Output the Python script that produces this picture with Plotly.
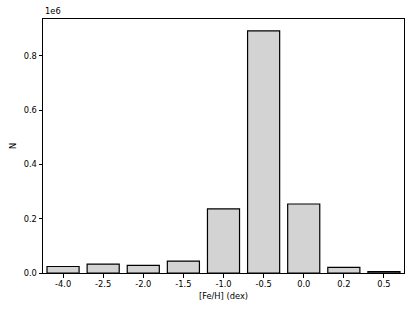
import plotly.graph_objects as go

categories = ["-4.0", "-2.5", "-2.0", "-1.5", "-1.0", "-0.5", "0.0", "0.2", "0.5"]
counts = [24000, 33000, 28000, 44000, 236000, 891000, 254000, 21000, 5000]

scale = 1e6
yvals = [c / scale for c in counts]

fig = go.Figure(go.Bar(
    x=list(range(len(categories))),
    y=yvals,
    width=0.8,
    marker=dict(color="#d3d3d3", line=dict(color="black", width=1.2)),
))

font = dict(family="DejaVu Sans", size=8.3, color="black")
fig.update_layout(
    width=415, height=311,
    margin=dict(l=43, r=11, t=19, b=38),
    plot_bgcolor="white", paper_bgcolor="white",
    font=font,
    showlegend=False,
    xaxis=dict(
        range=[-0.5, 8.5],
        tickmode="array", tickvals=list(range(len(categories))), ticktext=categories,
        showline=True, linecolor="black", linewidth=1, mirror=True,
        ticks="outside", ticklen=3.5, tickcolor="black", showgrid=False, zeroline=False,
        title=dict(text="[Fe/H] (dex)", font=font, standoff=4),
    ),
    yaxis=dict(
        range=[0, 0.935],
        tickvals=[0, 0.2, 0.4, 0.6, 0.8], ticktext=["0.0", "0.2", "0.4", "0.6", "0.8"],
        showline=True, linecolor="black", linewidth=1, mirror=True,
        ticks="outside", ticklen=3.5, tickcolor="black", showgrid=False, zeroline=False,
        title=dict(text="N", font=font, standoff=5),
    ),
    annotations=[dict(text="1e6", xref="paper", yref="paper", x=0, y=1,
                      xanchor="left", yanchor="bottom", showarrow=False, font=font, yshift=1)],
)

fig.write_html("out.html", config={"displayModeBar": False},
               post_script="document.body.style.margin='0';")
